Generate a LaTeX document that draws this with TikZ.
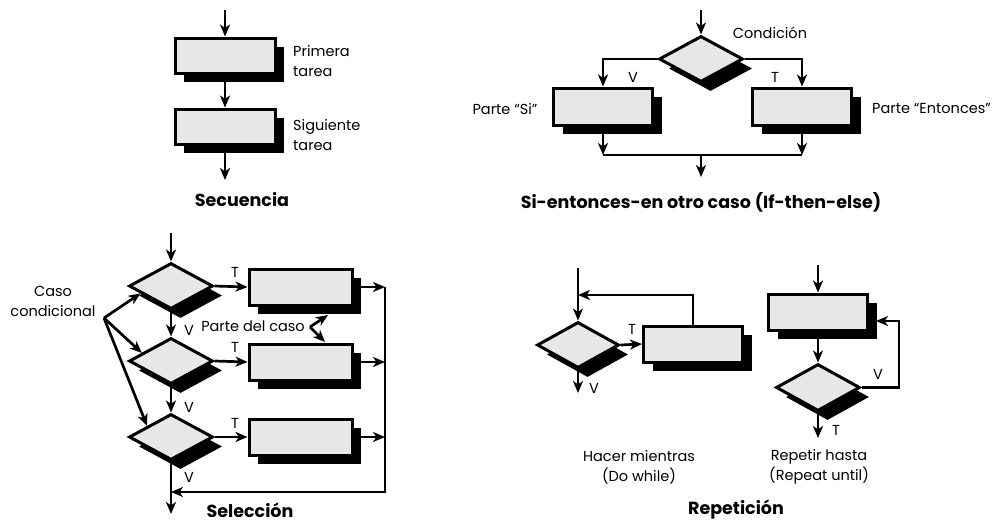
\documentclass[tikz,border=0pt]{standalone}
\usepackage{fontspec}
\setmainfont{Poppins}
\usetikzlibrary{shapes.geometric,shadows,arrows.meta,calc}
\definecolor{boxgray}{HTML}{E6E7E8}
\newcommand{\labfont}{\fontsize{14.5}{20}\selectfont}
\newcommand{\ttlfont}{\fontsize{17.5}{20}\selectfont\bfseries}
\begin{document}
\begin{tikzpicture}[x=1pt,y=-1pt,
  shad/.style={drop shadow={shadow xshift=9.5pt,shadow yshift=-9.5pt,opacity=1,fill=black}},
  bshad/.style={drop shadow={shadow xshift=9pt,shadow yshift=-9pt,opacity=1,fill=black}},
  tbox/.style={draw=black,line width=3pt,fill=boxgray,inner sep=0pt,minimum width=99pt,minimum height=36pt,bshad},
  dia/.style={diamond,draw=black,line width=3pt,fill=boxgray,inner sep=0pt,minimum width=84pt,minimum height=46pt,shad},
  ln/.style={line width=2.7pt},
  arr/.style={line width=2.7pt,-{Stealth[length=12pt,width=10pt,inset=3.5pt]}},
  lab/.style={font=\labfont,inner sep=0pt},
  ttl/.style={font=\ttlfont,inner sep=0pt}]
\useasboundingbox (0,0) rectangle (1000,522);

% ---------- Secuencia ----------
\coordinate (s0) at (225,10);
\node[tbox,minimum width=100pt,minimum height=35pt] (s1) at (225,55.5) {};
\node[tbox,minimum width=100pt,minimum height=35pt] (s2) at (225,126.5) {};
\coordinate (sE) at (225,180);
\draw[arr] (s0) -- (s1);
\draw[arr] (s1) -- (s2);
\draw[arr] (s2) -- (sE);
\node[lab,anchor=west,align=left] (sl1) at (293,61) {Primera\\tarea};
\node[lab,anchor=west,align=left] (sl2) at (293,135) {Siguiente\\tarea};
\node[ttl] (st) at (242,200) {Secuencia};

% ---------- If-then-else ----------
\coordinate (i0) at (701,10);
\node[dia] (d1) at (701,59) {};
\node[tbox,minimum height=37pt] (b1) at (603,106.5) {};
\node[tbox,minimum height=37pt] (b2) at (802,106.5) {};
\coordinate (m1) at (603,155);
\coordinate (m2) at (802,155);
\coordinate (m3) at (701,155);
\coordinate (iE) at (701,177);
\draw[arr] (i0) -- (d1);
\draw[arr] (d1.west) -| (b1.north);
\draw[arr] (d1.east) -| (b2.north);
\draw[arr] (b1) -- (m1);
\draw[arr] (b2) -- (m2);
\draw[ln] (m1) -- (m2);
\draw[arr] (m3) -- (iE);
\node[lab] (iv) at (633,77) {V};
\node[lab] (it) at (775,77) {T};
\node[lab] (ic) at (770,33) {Condición};
\node[lab] (isi) at (505,109) {Parte “Si”};
\node[lab,anchor=west] (ien) at (872,109) {Parte “Entonces”};
\node[ttl] (itt) at (701,202) {Si-entonces-en otro caso (If-then-else)};

% ---------- Selección ----------
\coordinate (e0) at (171,233);
\node[dia] (e1) at (171,286) {};
\node[dia] (e2) at (171,361) {};
\node[dia] (e3) at (171,437) {};
\node[tbox,minimum width=103pt] (c1) at (300.5,287) {};
\node[tbox,minimum width=103pt] (c2) at (300.5,362) {};
\node[tbox,minimum width=103pt] (c3) at (300.5,437) {};
\coordinate (r1) at (385,287);
\coordinate (r2) at (385,362);
\coordinate (r3) at (385,437);
\coordinate (r4) at (385,492);
\coordinate (l4) at (171,492);
\coordinate (eE) at (171,514);
\draw[arr] (e0) -- (e1);
\draw[arr] (e1) -- (e2);
\draw[arr] (e2) -- (e3);
\draw[arr] (e3) -- (eE);
\draw[arr] (e1.east) -- (c1.west);
\draw[arr] (e2.east) -- (c2.west);
\draw[arr] (e3.east) -- (c3.west);
\draw[arr] (c1.east) -- (r1);
\draw[arr] (c2.east) -- (r2);
\draw[arr] (c3.east) -- (r3);
\draw[arr] (r1) -- (r4) -- (l4);
\node[lab] (et1) at (235,272) {T};
\node[lab] (et2) at (235,347) {T};
\node[lab] (et3) at (235,423) {T};
\node[lab] (ev1) at (189,330) {V};
\node[lab] (ev2) at (189,407) {V};
\node[lab] (ev3) at (189,477) {V};
\node[lab,align=center] (cc) at (53,301) {Caso\\condicional};
\coordinate (f) at (104,318);
\draw[arr] (f) -- ($(e1.west)!0.3!(e1.south)$);
\draw[arr] (f) -- ($(e2.west)!0.33!(e2.north)$);
\draw[arr] (f) -- ($(e3.west)!0.45!(e3.north)$);
\node[lab] (pc) at (253,326) {Parte del caso};
\coordinate (p) at (310,327);
\coordinate (pc1) at (328,315);
\coordinate (pc2) at (325,342);
\draw[arr] (p) -- (pc1);
\draw[arr] (p) -- (pc2);
\node[ttl] (et) at (250,510) {Selección};

% ---------- Repetición: Do while ----------
\coordinate (w0) at (578,268);
\coordinate (wj) at (578,295);
\node[dia,minimum width=82pt] (w1) at (578,345) {};
\node[tbox] (w2) at (693,344) {};
\coordinate (wE) at (578,393);
\draw[arr] (w0) -- (w1);
\draw[arr] (w1.east) -- (w2.west);
\draw[arr] (w2.north) |- (wj);
\draw[arr] (w1) -- (wE);
\node[lab] (wt) at (632,329) {T};
\node[lab] (wv) at (594,388) {V};
\node[lab,align=center] (wl) at (639,467) {Hacer mientras\\(Do while)};

% ---------- Repetición: Repeat until ----------
\coordinate (u0) at (818,265);
\node[tbox] (u1) at (818,312) {};
\node[dia,minimum height=47pt] (u2) at (818,387.5) {};
\coordinate (uc) at (899,321);
\coordinate (ut) at (876,321);
\coordinate (uE) at (818,438);
\draw[arr] (u0) -- (u1);
\draw[arr] (u1) -- (u2);
\draw[arr] (u2.east) -| (uc) -- (ut);
\draw[arr] (u2) -- (uE);
\node[lab] (uv) at (878,374) {V};
\node[lab] (ut2) at (836,430) {T};
\node[lab,align=center] (ul) at (819,467) {Repetir hasta\\(Repeat until)};
\node[ttl] (rt) at (736,510) {Repetición};
\end{tikzpicture}
\end{document}
